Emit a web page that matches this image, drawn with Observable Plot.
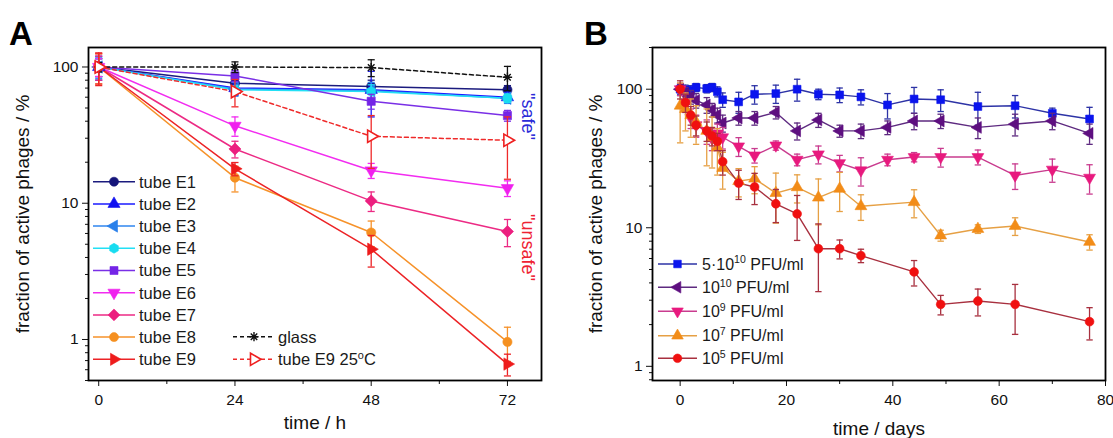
<!DOCTYPE html>
<html><head><meta charset="utf-8">
<script src="https://cdn.jsdelivr.net/npm/d3@7"></script>
<script src="https://cdn.jsdelivr.net/npm/@observablehq/plot@0.6"></script>
<style>
body{margin:0;background:#fff;}
#wrap{display:flex;width:1113px;height:438px;overflow:hidden;}
#wrap svg{display:block;}
</style></head><body><div id="wrap"><div id="a"></div><div id="b"></div></div>
<script>
// ---------------- DATA: panel A (time in hours) ----------------
const hoursA = [0, 24, 48, 72];
const tubeE1 = [100, 76, 72, 68];      const tubeE1Err = [15, 10, 8, 5];
const tubeE2 = [100, 70, 68, 60];      const tubeE2Err = [20, 8, 25, 5];
const tubeE3 = [100, 69, 67, 59];      const tubeE3Err = [18, 8, 10, 5];
const tubeE4 = [100, 68, 66, 59];      const tubeE4Err = [15, 5, 8, 4];
const tubeE5 = [100, 86, 56, 44];      const tubeE5Err = [15, 8, 7, 4];
const tubeE6 = [100, 37, 17.4, 12.9];  const tubeE6Err = [15, 6, 2.2, 1.7];
const tubeE7 = [100, 25, 10.4, 6.2];   const tubeE7Err = [20, 3.5, 1.7, 1.4];
const tubeE8 = [100, 15.4, 6.1, 0.96]; const tubeE8Err = [25, 3.3, 1.3, 0.27];
const tubeE9 = [100, 17.9, 4.6, 0.66]; const tubeE9Err = [27, 2, 1.2, 0.12];
const glass = [100, 100, 99, 84];      const glassErr = [8, 9, 14, 17];
const tubeE9at25 = [100, 66, 31, 29];  const tubeE9at25Err = [25, 15, 13, 14];
const yTicksA = [1, 10, 100];
const xTicksA = [0, 24, 48, 72];

// ---------------- DATA: panel B (time in days) ----------------
const daysHigh = [0,1,2,3,5,6,7,8,11,14,18,22,26,30,34,39,44,49,56,63,70,77];
const daysLow  = [0,1,2,3,5,6,7,8,11,14,18,22,26,30,34,44,49,56,63,77];
const pfu5e10 = [100,99,98,103,101,103,96,84,81,92,93,100,92,91,88,77,85,84,75,76,67,61];
const pfu5e10Err = [8,8,8,7,7,7,8,10,14,14,14,18,8,11,11,16,18,15,20,14,6,13];
const pfu1e10 = [100,93,88,83,77,71,65,57,62,62,68,50,60,50,50,53,59,59,53,56,59,48];
const pfu1e10Err = [10,10,10,10,10,8,8,8,7,7,7,7,7,5,6,6,8,7,9,10,8,8];
const pfu1e9 = [100,80,62,55,50,44,48,45,38.7,33.3,39.3,31,33.9,29.3,26,31,32.4,32.4,32.4,23.9,26.3,23];
const pfu1e9Err = [10,12,10,10,10,8,8,8,6,4,3,3,5,4,6,3,2.5,5,4,5,5,5.5];
const pfu1e7 = [76,72,65,58,50,45,38,27,21.7,22.6,17.8,19.6,16.5,19.1,14.3,15.3,8.8,9.8,10.3,7.9];
const pfu1e7Err = [35,22,20,18,22,18,14,8,5,5,7,4.5,6,6,3,3.5,0.8,0.7,1.5,1.0];
const pfu1e5 = [100,80,65,55,50,46,42,30,21,19.7,14.9,12.6,7.06,7.06,6.3,4.8,2.8,2.96,2.8,2.1];
const pfu1e5Err = [15,12,10,9,8,7,6,6,5,5,4,4.5,3.6,1.1,0.7,1.0,0.45,0.65,1.1,0.55];
const yTicksB = [1, 10, 100];
const xTicksB = [0, 20, 40, 60, 80];

// ---------------- symbols ----------------
const FONT = '"Liberation Sans", Arial, Helvetica, sans-serif';
const sqrt3 = Math.sqrt(3);
function triSym(angle){
  const c = Math.cos(angle), s = Math.sin(angle);
  return {draw(ctx, size){
    const y = -Math.sqrt(size / (sqrt3 * 3));
    const pts = [[0, 2*y], [-sqrt3*y, -y], [sqrt3*y, -y]];
    pts.forEach(([px, py], i) => { const X = px*c - py*s, Y = px*s + py*c; i ? ctx.lineTo(X, Y) : ctx.moveTo(X, Y); });
    ctx.closePath();
  }};
}
const triUp = triSym(0), triDown = triSym(Math.PI), triLeft = triSym(-Math.PI/2), triRight = triSym(Math.PI/2);
const hexSym = {draw(ctx, size){ const r = Math.sqrt(size/(1.5*sqrt3)); for (let k=0;k<6;k++){ const a=Math.PI/6+k*Math.PI/3; const X=r*Math.cos(a), Y=r*Math.sin(a); k?ctx.lineTo(X,Y):ctx.moveTo(X,Y);} ctx.closePath(); }};
const diamSym = {draw(ctx, size){ const r = Math.sqrt(size/2)*1.05; ctx.moveTo(0,-r); ctx.lineTo(r,0); ctx.lineTo(0,r); ctx.lineTo(-r,0); ctx.closePath(); }};
const starSym = {draw(ctx, size){ const r = Math.sqrt(size)/2*1.15; for (let k=0;k<4;k++){ const a=k*Math.PI/4; ctx.moveTo(-r*Math.cos(a), -r*Math.sin(a)); ctx.lineTo(r*Math.cos(a), r*Math.sin(a)); } }};
const capSym = {draw(ctx, size){ const r = Math.sqrt(size)/2; ctx.moveTo(-r,0); ctx.lineTo(r,0); }};
const circ = d3.symbolCircle, sq = d3.symbolSquare;

function logMinors(lo, hi){
  const out = [];
  for (let e = -1; e <= 3; e++) for (let m = 2; m <= 9; m++){ const v = m*Math.pow(10,e); if (v>=lo && v<=hi) out.push(+v.toPrecision(3)); }
  return out;
}

function seriesMarks(xs, vs, es, o){
  const rows = xs.map((x,i) => ({x, v: vs[i], lo: vs[i]-es[i], hi: vs[i]+es[i]}));
  const ew = o.ew || 1.3;
  return {
    line: Plot.line(rows, {x:"x", y:"v", stroke:o.line, strokeWidth:o.lw||1.5, strokeDasharray:o.dash}),
    rest: [
      Plot.ruleX(rows, {x:"x", y1:"lo", y2:"hi", stroke:o.err||o.line, strokeWidth:ew}),
      Plot.dot(rows, {x:"x", y:"lo", symbol:capSym, r:o.cap, stroke:o.err||o.line, fill:"none", strokeWidth:ew}),
      Plot.dot(rows, {x:"x", y:"hi", symbol:capSym, r:o.cap, stroke:o.err||o.line, fill:"none", strokeWidth:ew}),
      o.strokeOnly
        ? Plot.dot(rows, {x:"x", y:"v", symbol:o.sym, r:o.r, fill:"none", stroke:o.fill, strokeWidth:1.4})
        : o.open
          ? Plot.dot(rows, {x:"x", y:"v", symbol:o.sym, r:o.r, fill:"white", stroke:o.fill, strokeWidth:1.6})
          : Plot.dot(rows, {x:"x", y:"v", symbol:o.sym, r:o.r, fill:o.fill, stroke:o.fill, strokeWidth:0.6})
    ]
  };
}

function addLegend(svg, items, x1, x2, xt, ys, size, fs){
  const g = d3.select(svg).append("g").attr("font-family", FONT).attr("font-size", fs).attr("text-anchor", "start");
  items.forEach((it, i) => {
    const y = ys[i];
    g.append("line").attr("x1",x1).attr("x2",x2).attr("y1",y).attr("y2",y)
      .attr("stroke",it.line).attr("stroke-width",1.5).attr("stroke-dasharray", it.dash || null);
    const p = g.append("path").attr("transform",`translate(${(x1+x2)/2},${y})`).attr("d", d3.symbol(it.sym, size)());
    if (it.strokeOnly) p.attr("fill","none").attr("stroke",it.fill).attr("stroke-width",1.4);
    else if (it.open) p.attr("fill","white").attr("stroke",it.fill).attr("stroke-width",1.6);
    else p.attr("fill",it.fill).attr("stroke",it.fill).attr("stroke-width",0.6);
    const t = g.append("text").attr("x",xt).attr("y",y + fs*0.36).attr("fill","#1a1a1a").attr("text-anchor","start");
    let shift = 0;
    it.parts.forEach(part => {
      if (typeof part === "string") {
        const s = t.append("tspan").text(part);
        if (shift) { s.attr("dy", shift); shift = 0; }
      } else {
        t.append("tspan").attr("dy", -6.5).attr("font-size", fs*0.66).text(part.sup);
        shift = 6.5;
      }
    });
  });
}

function addLetter(svg, letter, x){
  d3.select(svg).append("text").attr("x", x).attr("y", 45).attr("font-family", FONT).attr("text-anchor","start")
    .attr("font-size", 33).attr("font-weight", "bold").attr("fill", "#000").text(letter);
}

const TICKFS = 15.5, TITLEFS = 19;

// ---------------- Panel A ----------------
const optsA = [
  {name:"tube E1", v:tubeE1, e:tubeE1Err, line:"#1b1b7e", fill:"#15157a", sym:circ},
  {name:"tube E2", v:tubeE2, e:tubeE2Err, line:"#1a1aff", fill:"#1010f0", sym:triUp},
  {name:"tube E3", v:tubeE3, e:tubeE3Err, line:"#2f86ef", fill:"#2a80ea", sym:triLeft},
  {name:"tube E4", v:tubeE4, e:tubeE4Err, line:"#22e0f5", fill:"#18dcf0", sym:hexSym},
  {name:"tube E5", v:tubeE5, e:tubeE5Err, line:"#7a2fe6", fill:"#7424e6", sym:sq},
  {name:"tube E6", v:tubeE6, e:tubeE6Err, line:"#f22cf0", fill:"#f020ee", sym:triDown},
  {name:"tube E7", v:tubeE7, e:tubeE7Err, line:"#ec2a84", fill:"#ec1f7f", sym:diamSym},
  {name:"tube E8", v:tubeE8, e:tubeE8Err, line:"#f6922a", fill:"#f59020", sym:circ},
  {name:"tube E9", v:tubeE9, e:tubeE9Err, line:"#ec2326", fill:"#ee1c1c", sym:triRight},
  {name:"glass", v:glass, e:glassErr, line:"#111", fill:"#111", sym:starSym, dash:"4,3", strokeOnly:true},
  {name:"tube E9 25C", v:tubeE9at25, e:tubeE9at25Err, line:"#ef2a2a", fill:"#ef2020", sym:triRight, dash:"4,3", open:true}
];
const builtA = optsA.map(o => seriesMarks(hoursA, o.v, o.e, {...o, r:4.6, cap:4}));
const plotA = Plot.plot({
  width: 556, height: 438,
  marginLeft: 88, marginRight: 15, marginTop: 47, marginBottom: 58,
  style: {fontFamily: FONT, fontSize: "15px", background: "transparent", overflow: "visible", color: "#111"},
  x: {domain: [-1.8, 78]},
  y: {type: "log", domain: [0.5, 139]},
  marks: [
    Plot.axisY({ticks: logMinors(0.5, 139), tickSize: 3, tickFormat: () => "", label: null}),
    Plot.axisY({ticks: yTicksA, tickSize: 6, tickPadding: 4, tickFormat: d => String(d), label: null, fontSize: TICKFS}),
    Plot.axisX({ticks: [12, 36, 60], tickSize: 4, tickFormat: () => "", label: null}),
    Plot.axisX({ticks: xTicksA, tickSize: 6, tickPadding: 7, tickFormat: d => String(d), label: null, fontSize: TICKFS}),
    builtA.map(b => b.line),
    builtA.map(b => b.rest),
    Plot.frame({stroke: "#000", strokeWidth: 1.8}),
    Plot.text(["fraction of active phages / %"], {text: d => d, frameAnchor: "left", dx: -66, rotate: -90, textAnchor: "middle", lineAnchor: "middle", fontSize: TITLEFS}),
    Plot.text(["time / h"], {text: d => d, frameAnchor: "bottom", dy: 42, textAnchor: "middle", lineAnchor: "middle", fontSize: TITLEFS}),
    Plot.text(['"safe"'], {text: d => d, frameAnchor: "top-right", dx: -14, dy: 69, rotate: 90, textAnchor: "middle", lineAnchor: "middle", fontSize: 18, fill: "#2b2bd8"}),
    Plot.text(['"unsafe"'], {text: d => d, frameAnchor: "top-right", dx: -14, dy: 200, rotate: 90, textAnchor: "middle", lineAnchor: "middle", fontSize: 18, fill: "#ee2233"})
  ]
});
document.getElementById("a").appendChild(plotA);
addLetter(plotA, "A", 9);
const legAYs = d3.range(9).map(i => 181.7 + 22.2*i);
addLegend(plotA, optsA.slice(0,9).map(o => ({...o, parts:[o.name]})), 93, 135, 139, legAYs, 64, 16.5);
addLegend(plotA, [
  {...optsA[9], parts:["glass"]},
  {...optsA[10], parts:["tube E9 25", {sup:"o"}, "C"]}
], 233, 275, 278, [336.7, 359.3], 64, 16.5);

// ---------------- Panel B ----------------
const optsB = [
  {name:"5e10", days:daysHigh, v:pfu5e10, e:pfu5e10Err, line:"#2d33a6", fill:"#0a14ee", sym:sq, parts:["5·10", {sup:"10"}, " PFU/ml"]},
  {name:"1e10", days:daysHigh, v:pfu1e10, e:pfu1e10Err, line:"#5e2a80", fill:"#5e0f80", sym:triLeft, parts:["10", {sup:"10"}, " PFU/ml"]},
  {name:"1e9", days:daysHigh, v:pfu1e9, e:pfu1e9Err, line:"#c93c8f", fill:"#e8197e", sym:triDown, parts:["10", {sup:"9"}, " PFU/ml"]},
  {name:"1e7", days:daysLow, v:pfu1e7, e:pfu1e7Err, line:"#e6a044", fill:"#f28c18", sym:triUp, parts:["10", {sup:"7"}, " PFU/ml"]},
  {name:"1e5", days:daysLow, v:pfu1e5, e:pfu1e5Err, line:"#a8303f", fill:"#f01010", sym:circ, parts:["10", {sup:"5"}, " PFU/ml"]}
];
const builtB = optsB.map(o => seriesMarks(o.days, o.v, o.e, {...o, r:4.4, cap:3.6, lw:1.4, ew:1.3}));
const plotB = Plot.plot({
  width: 557, height: 438,
  marginLeft: 96, marginRight: 8, marginTop: 47, marginBottom: 58,
  style: {fontFamily: FONT, fontSize: "15px", background: "transparent", overflow: "visible", color: "#111"},
  x: {domain: [-5.2, 80]},
  y: {type: "log", domain: [0.79, 200]},
  marks: [
    Plot.axisY({ticks: logMinors(0.79, 200), tickSize: 3, tickFormat: () => "", label: null}),
    Plot.axisY({ticks: yTicksB, tickSize: 6, tickPadding: 4, tickFormat: d => String(d), label: null, fontSize: TICKFS}),
    Plot.axisX({ticks: [10, 30, 50, 70], tickSize: 4, tickFormat: () => "", label: null}),
    Plot.axisX({ticks: xTicksB, tickSize: 6, tickPadding: 7, tickFormat: d => String(d), label: null, fontSize: TICKFS}),
    builtB.map(b => b.line),
    builtB.map(b => b.rest),
    Plot.frame({stroke: "#000", strokeWidth: 1.8}),
    Plot.text(["fraction of active phages / %"], {text: d => d, frameAnchor: "left", dx: -57, rotate: -90, textAnchor: "middle", lineAnchor: "middle", fontSize: TITLEFS}),
    Plot.text(["time / days"], {text: d => d, frameAnchor: "bottom", dy: 48, textAnchor: "middle", lineAnchor: "middle", fontSize: TITLEFS})
  ]
});
document.getElementById("b").appendChild(plotB);
addLetter(plotB, "B", 28);
addLegend(plotB, optsB, 102, 141, 146, [264, 287.3, 311.3, 335.7, 358.3], 58, 16);
</script></body></html>
